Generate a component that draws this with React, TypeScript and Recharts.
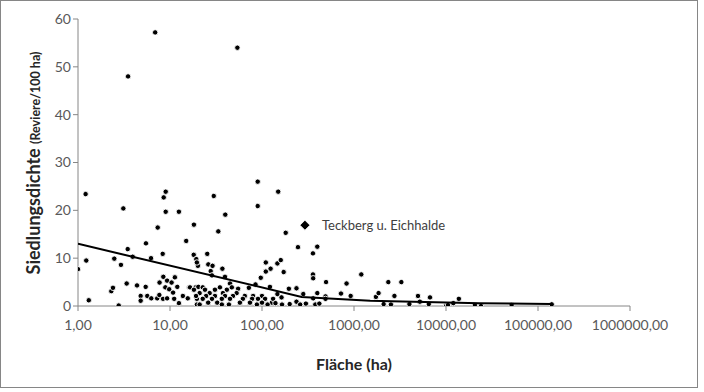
// Siedlungsdichte vs. Fläche: scatter on a log x-axis with a trend line.
import { Scatter, ScatterChart, XAxis, YAxis } from "recharts";

// [Fläche (ha), Siedlungsdichte (Reviere/100 ha)]
const small: [number, number][] = [
  [1.0, 7.7], [1.21, 23.4], [1.23, 9.5], [1.31, 1.2], [2.3, 3.1], [2.4, 3.8], [2.48, 9.9], [2.77, 0.1],
  [2.93, 8.6], [3.11, 20.4], [3.38, 4.7], [3.47, 11.9], [3.5, 48.0], [3.93, 10.3], [4.38, 4.3], [4.8, 2.1],
  [4.8, 1.1], [5.44, 4.0], [5.48, 13.1], [5.66, 2.1], [6.22, 10.0], [6.26, 1.6], [6.9, 57.2], [7.26, 1.6],
  [7.35, 16.4], [7.66, 2.3], [7.7, 4.9], [8.33, 10.9], [8.4, 1.5], [8.46, 6.1], [8.54, 22.7], [8.9, 3.9],
  [8.98, 23.9], [8.98, 19.7], [9.3, 5.3], [9.3, 1.6], [9.8, 3.5], [10.4, 4.9], [10.8, 2.8], [11.1, 1.5],
  [11.3, 6.0], [12.0, 4.0], [12.5, 19.7], [12.5, 0.6], [13.8, 2.1], [15.0, 13.6], [15.6, 1.6], [16.2, 3.9],
  [18.1, 10.7], [18.2, 17.0], [19.0, 3.9], [19.3, 9.8], [19.6, 1.5], [20.1, 8.4],
];

const medium: [number, number][] = [
  [20.3, 4.0], [19.6, 9.1], [25.4, 10.9], [26.1, 8.7], [27.7, 7.3], [28.6, 6.4], [29.0, 8.4], [29.9, 23.0],
  [33.5, 15.6], [37.1, 7.8], [39.6, 6.1], [39.9, 19.1], [44.9, 4.7], [54, 54.0], [55, 3.6], [72, 3.8],
  [85, 4.5], [89.8, 26.0], [89.8, 20.9], [97, 5.9],
  [16.5, 3.9], [22.7, 3.9], [34.9, 3.9], [47, 3.9],
  [18.2, 3.4], [24, 3.4], [30.8, 3.4], [41.5, 3.4],
  [21, 2.7], [27, 2.7], [37.6, 2.7], [53, 2.7],
  [19.2, 2.1], [24.7, 2.1], [30.8, 2.1], [39.6, 2.1], [48.4, 2.1], [65, 2.1], [80, 2.1], [100, 2.1],
  [22.7, 1.5], [28.6, 1.5], [36.6, 1.5], [44.9, 1.5], [62, 1.5], [78, 1.5], [90.5, 1.5], [108, 1.5],
  [26, 0.7], [32.6, 0.7], [57.5, 0.7], [74, 0.7], [100, 0.7], [128, 0.7],
  [19.6, 0.3], [21, 0.3], [36.6, 0.3], [43.7, 0.3], [88, 0.3], [165, 0.3],
];

const large: [number, number][] = [
  [110, 9.1], [110, 7.2], [122, 4.0], [124, 7.8], [132, 1.5], [147, 8.9], [147, 2.5], [150, 23.9],
  [160, 9.6], [163, 1.8], [172, 7.1], [181, 15.3], [196, 3.6], [237, 3.7], [237, 0.9], [246, 12.3],
  [281, 2.5], [358, 11.0], [358, 6.6], [360, 5.8], [360, 1.6], [399, 12.4], [399, 2.7], [490, 2.0],
  [490, 1.5], [497, 5.0], [722, 2.6], [830, 4.7], [920, 2.1],
  [115, 0.3], [140, 0.6], [200, 0.4], [260, 0.3], [300, 0.5], [380, 0.3], [420, 0.5],
  [1200, 6.6], [1730, 1.9], [1850, 2.7], [2100, 0.4], [2360, 5.0], [2520, 0.3], [2750, 2.1], [3270, 5.0],
  [4000, 0.4], [4960, 2.1], [5200, 0.9], [6500, 0.4], [6700, 1.8], [10000, 0.0], [10500, 0.2], [12000, 0.6],
  [13800, 1.5], [20600, 0.2], [24000, 0.0], [51700, 0.2], [141000, 0.35],
];

const trendX = [1, 270, 1500, 23000, 141000];
const trendY = [13, 1.9, 1.1, 0.6, 0.4];

const teckberg = { x: 293, y: 16.9, name: "Teckberg u. Eichhalde" };

const xTicks = [1, 10, 100, 1000, 10000, 100000, 1000000];
const yTicks = [0, 10, 20, 30, 40, 50, 60];

const points = [...small, ...medium, ...large].map(([x, y]) => ({ x, y }));
const trend = trendX.map((x, i) => ({ x, y: trendY[i] }));

const font = "Lato, 'Liberation Sans', sans-serif";
const axisGray = "#868686";

const Dot = (p: any) => <circle cx={p.cx} cy={p.cy} r={2.7} fill="#000" stroke="#fff" strokeWidth={0.9} />;

const Diamond = (p: any) => (
  <g>
    <polygon
      points={`${p.cx},${p.cy - 5} ${p.cx + 5},${p.cy} ${p.cx},${p.cy + 5} ${p.cx - 5},${p.cy}`}
      fill="#000"
      stroke="#fff"
      strokeWidth={0.8}
    />
    <text x={p.cx + 17} y={p.cy + 4.5} fontSize={13} fill="#404040" fontFamily={font}>{teckberg.name}</text>
  </g>
);

const Empty = () => <g />;

export default function App() {
  return (
    <div style={{ position: "absolute", left: 0, top: 0, width: 704, height: 392, background: "#fff" }}>
      <div style={{ position: "absolute", left: 0, top: 0, width: 698, height: 388, border: `1px solid ${axisGray}`, boxSizing: "border-box" }} />
      <ScatterChart width={704} height={392} margin={{ top: 19, right: 74, bottom: 0, left: 0 }}>
        <XAxis
          type="number"
          dataKey="x"
          scale="log"
          domain={[1, 1000000]}
          ticks={xTicks}
          allowDataOverflow
          tickFormatter={(v: number) => v.toFixed(2).replace(".", ",")}
          stroke={axisGray}
          tickSize={5}
          tick={{ fill: "#595959", fontSize: 14, fontFamily: font, dy: 7 }}
          height={86}
          label={{ value: "Fläche (ha)", position: "insideBottom", offset: 22, fill: "#262626", fontSize: 16, fontWeight: 700, fontFamily: font }}
        />
        <YAxis
          type="number"
          dataKey="y"
          domain={[0, 60]}
          ticks={yTicks}
          allowDataOverflow
          stroke={axisGray}
          tickSize={5}
          width={78}
          tick={{ fill: "#595959", fontSize: 14, fontFamily: font }}
          label={{
            content: () => (
              <text x={40} y={163} transform="rotate(-90 40 163)" textAnchor="middle" fill="#262626" fontFamily={font} fontWeight={700}>
                <tspan fontSize={18}>Siedlungsdichte </tspan>
                <tspan fontSize={12.5}> (Reviere/100 ha)</tspan>
              </text>
            ),
          }}
        />
        <Scatter data={points} shape={Dot} isAnimationActive={false} />
        <Scatter data={trend} shape={Empty} line={{ stroke: "#000", strokeWidth: 2 }} isAnimationActive={false} />
        <Scatter data={[teckberg]} shape={Diamond} isAnimationActive={false} />
      </ScatterChart>
    </div>
  );
}
